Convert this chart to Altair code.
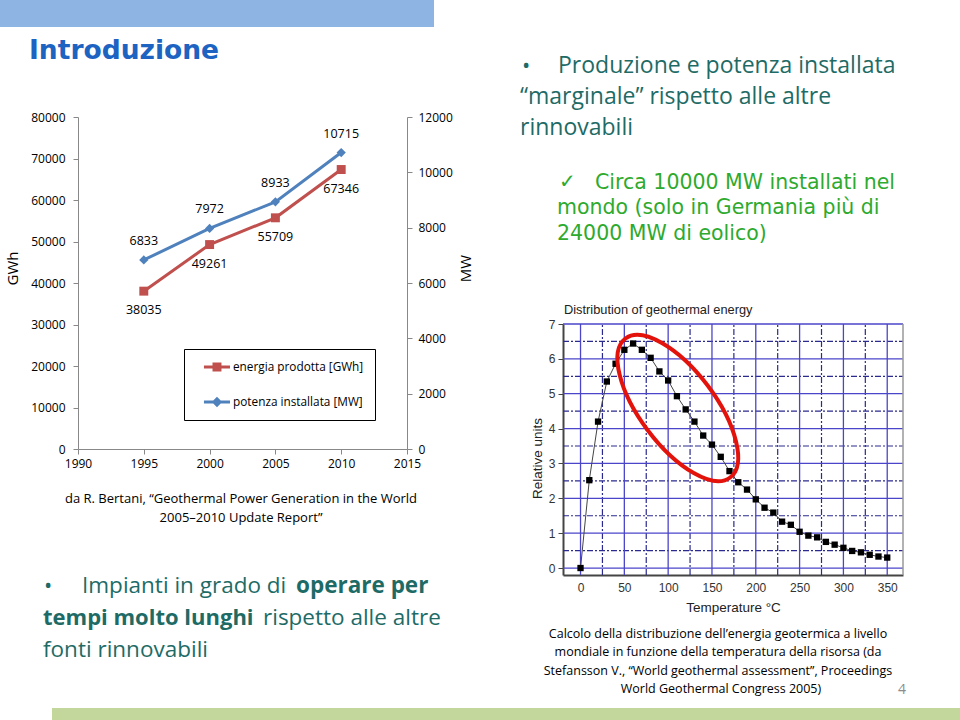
import altair as alt
import pandas as pd

# ---------------- data ----------------
anni = [1995, 2000, 2005, 2010]
energia_gwh = [38035, 49261, 55709, 67346]
potenza_mw = [6833, 7972, 8933, 10715]
serie = ["energia prodotta [GWh]", "potenza installata [MW]"]

anni_tick = [1990, 1995, 2000, 2005, 2010, 2015]
gwh_tick = [0, 10000, 20000, 30000, 40000, 50000, 60000, 70000, 80000]
mw_tick = [0, 2000, 4000, 6000, 8000, 10000, 12000]

temperatura = [0, 10, 20, 30, 40, 50, 60, 70, 80, 90, 100, 110, 120, 130, 140, 150, 160, 170,
               180, 190, 200, 210, 220, 230, 240, 250, 260, 270, 280, 290, 300, 310, 320, 330, 340, 350]
unita_relative = [0.0, 2.52, 4.20, 5.35, 5.86, 6.26, 6.44, 6.26, 6.03, 5.64, 5.38, 4.93, 4.55, 4.20,
                  3.80, 3.54, 3.19, 2.78, 2.46, 2.25, 1.97, 1.73, 1.59, 1.33, 1.24, 1.04, 0.93, 0.88,
                  0.75, 0.67, 0.58, 0.49, 0.45, 0.38, 0.33, 0.30]
temp_tick = [0, 50, 100, 150, 200, 250, 300, 350]
temp_tick_min = [25, 75, 125, 175, 225, 275, 325]
unita_tick = [0, 1, 2, 3, 4, 5, 6, 7]
unita_tick_min = [0.5, 1.5, 2.5, 3.5, 4.5, 5.5, 6.5]
ellisse_centro = [111, 4.59]

# ---------------- layout / style ----------------
W, H = 960, 720
LX0, LX1, LY0, LY1 = 78, 407, 449, 117          # left chart plot area
DX0, DX1, DY0, DY1 = 563, 903, 575, 324         # distribution chart plot area
RED, BLUE = "#C0504D", "#4F81BD"
TEAL, GREEN, TITLEBLUE = "#1E6B66", "#2EAA2E", "#1C63C2"
F_BODY, F_GOTH, F_ARIAL = "Open Sans", "DejaVu Sans", "Liberation Sans"
GRAY = "#888888"

# ---------------- left chart (dual axis) ----------------
df_left = pd.DataFrame({"anno": anni, "gwh": energia_gwh, "mw": potenza_mw})

S_YEAR = alt.Scale(domain=[1990, 2015], range=[LX0, LX1], nice=False, zero=False)
S_GWH = alt.Scale(domain=[0, 80000], range=[LY0, LY1], nice=False)
S_MW = alt.Scale(domain=[0, 12000], range=[LY0, LY1], nice=False)

AX_YEAR = alt.Axis(orient="bottom", offset=LY0 - H, values=anni_tick, format="d", title=None,
                   labelFont=F_BODY, labelFontSize=12, labelColor="black", labelPadding=4,
                   domainColor=GRAY, tickColor=GRAY, tickSize=5, grid=False,
                   labelFlush=False, labelOverlap=False)
AX_GWH = alt.Axis(orient="left", offset=-LX0, values=gwh_tick, format="d", title="GWh",
                  titleAngle=270, titleX=12 - LX0, titleY=268, titleAlign="center",
                  titleBaseline="middle", titleFont=F_BODY, titleFontSize=15,
                  titleFontWeight="normal", titleColor="black",
                  labelFont=F_BODY, labelFontSize=12, labelColor="black", labelPadding=8,
                  domainColor=GRAY, tickColor=GRAY, tickSize=5, grid=False, labelOverlap=False)
AX_MW = alt.Axis(orient="right", offset=LX1 - W, values=mw_tick, format="d", title="MW",
                 titleAngle=270, titleX=465 - LX1, titleY=268, titleAlign="center",
                 titleBaseline="middle", titleFont=F_BODY, titleFontSize=15,
                 titleFontWeight="normal", titleColor="black",
                 labelFont=F_BODY, labelFontSize=12, labelColor="black", labelPadding=6,
                 domainColor=GRAY, tickColor=GRAY, tickSize=5, grid=False, labelOverlap=False)

X_YEAR = alt.X("anno:Q", scale=S_YEAR, axis=AX_YEAR)
Y_GWH = alt.Y("gwh:Q", scale=S_GWH, axis=AX_GWH)
Y_MW = alt.Y("mw:Q", scale=S_MW, axis=AX_MW)

base_l = alt.Chart(df_left)
red_line = base_l.mark_line(color=RED, strokeWidth=3).encode(x=X_YEAR, y=Y_GWH)
red_pts = base_l.mark_point(shape="square", filled=True, size=80, color=RED, opacity=1).encode(x=X_YEAR, y=Y_GWH)
red_lbl = base_l.mark_text(dy=19, font=F_BODY, fontSize=12.5, color="black").encode(
    x=X_YEAR, y=Y_GWH, text=alt.Text("gwh:Q", format="d"))

blue_line = base_l.mark_line(color=BLUE, strokeWidth=3).encode(x=X_YEAR, y=Y_MW)
blue_pts = base_l.mark_point(shape="diamond", filled=True, size=85, color=BLUE, opacity=1).encode(x=X_YEAR, y=Y_MW)
blue_lbl = base_l.mark_text(dy=-19, font=F_BODY, fontSize=12.5, color="black").encode(
    x=X_YEAR, y=Y_MW, text=alt.Text("mw:Q", format="d"))

# legend: line + marker symbols drawn by the legend itself
PATH_SQ = ("M 0.28 -0.21 L 4 -0.21 L 4 0.21 L 0.28 0.21 Z "
           "M 1.5 -0.64 L 2.78 -0.64 L 2.78 0.64 L 1.5 0.64 Z")
PATH_DI = ("M 0.28 -0.21 L 4 -0.21 L 4 0.21 L 0.28 0.21 Z "
           "M 2.14 -0.75 L 2.89 0 L 2.14 0.75 L 1.39 0 Z")
LEG = alt.Legend(title=None, orient="none", legendX=184, legendY=349, direction="vertical",
                 strokeColor="black", fillColor="white", padding=11, rowPadding=21,
                 symbolSize=196, symbolStrokeWidth=0, symbolOpacity=1, labelOffset=24,
                 labelFont=F_BODY, labelFontSize=11.8, labelColor="black", labelLimit=0)
legend_layer = alt.Chart(pd.DataFrame({"serie": serie})).mark_point(filled=True, opacity=0).encode(
    color=alt.Color("serie:N", scale=alt.Scale(domain=serie, range=[RED, BLUE]), legend=LEG),
    shape=alt.Shape("serie:N", scale=alt.Scale(domain=serie, range=[PATH_SQ, PATH_DI]), legend=LEG),
)

left_chart = alt.layer(
    alt.layer(red_line, red_pts, red_lbl, legend_layer),
    alt.layer(blue_line, blue_pts, blue_lbl),
).resolve_scale(y="independent")

# ---------------- distribution chart ----------------
S_T = alt.Scale(domain=[-20, 368], range=[DX0, DX1], nice=False, zero=False)
S_U = alt.Scale(domain=[-0.2, 7.0], range=[DY0, DY1], nice=False, zero=False)
AX_T = alt.Axis(orient="bottom", offset=DY0 - H, values=temp_tick, format="d",
                title="Temperature  \u00b0C", titleX=733, titleY=32, titleAlign="center",
                titleBaseline="middle", titleFont=F_ARIAL, titleFontSize=13.5,
                titleFontWeight="normal", titleColor="#222222",
                labelFont=F_ARIAL, labelFontSize=12, labelColor="#333333", labelPadding=7,
                ticks=False, domainColor="#444444", domainWidth=2, grid=False,
                labelFlush=False, labelOverlap=False)
AX_U = alt.Axis(orient="left", offset=-DX0, values=unita_tick, format="d",
                title="Relative units", titleAngle=270, titleX=537 - DX0, titleY=458,
                titleAlign="center", titleBaseline="middle", titleFont=F_ARIAL,
                titleFontSize=13.5, titleFontWeight="normal", titleColor="#222222",
                labelFont=F_ARIAL, labelFontSize=12, labelColor="#333333", labelPadding=3,
                tickSize=5, tickColor="#444444", domainColor="#444444", domainWidth=2,
                grid=False, labelOverlap=False)


def xt(field):
    return alt.X(field, type="quantitative", scale=S_T, axis=AX_T)


def yu(field):
    return alt.Y(field, type="quantitative", scale=S_U, axis=AX_U)


t_lo, t_hi = S_T.domain
u_lo, u_hi = -0.2, 7.0
df_vmaj = pd.DataFrame({"t": temp_tick, "u0": u_lo, "u1": u_hi})
df_vmin = pd.DataFrame({"t": temp_tick_min, "u0": u_lo, "u1": u_hi})
df_hmaj = pd.DataFrame({"u": unita_tick, "t0": t_lo, "t1": t_hi})
df_hmin = pd.DataFrame({"u": unita_tick_min, "t0": t_lo, "t1": t_hi})

GRID_MAJ = dict(color="#4B45C9", strokeWidth=1.3)
GRID_MIN = dict(color="#2A2A8F", strokeWidth=1.2, strokeDash=[6, 2, 2, 2])

g_vmaj = alt.Chart(df_vmaj).mark_rule(**GRID_MAJ).encode(x=xt("t"), y=yu("u0"), y2="u1")
g_vmin = alt.Chart(df_vmin).mark_rule(**GRID_MIN).encode(x=xt("t"), y=yu("u0"), y2="u1")
g_hmaj = alt.Chart(df_hmaj).mark_rule(**GRID_MAJ).encode(y=yu("u"), x=xt("t0"), x2="t1")
g_hmin = alt.Chart(df_hmin).mark_rule(**GRID_MIN).encode(y=yu("u"), x=xt("t0"), x2="t1")
frame_r = alt.Chart(pd.DataFrame({"t": [t_hi], "u0": [u_lo], "u1": [u_hi]})).mark_rule(
    color="#999999", strokeWidth=1.5).encode(x=xt("t"), y=yu("u0"), y2="u1")

df_dist = pd.DataFrame({"temp": temperatura, "rel": unita_relative})
d_line = alt.Chart(df_dist).mark_line(color="#444444", strokeWidth=1).encode(x=xt("temp"), y=yu("rel"))
d_pts = alt.Chart(df_dist).mark_point(shape="square", filled=True, size=40, color="black",
                                      opacity=1).encode(x=xt("temp"), y=yu("rel"))

# red ellipse (rotated) highlighting 50-170 °C
r, k = 0.43, 0.5523
ELLIPSE = (f"M 1 0 C 1 {k*r:.4f} {k:.4f} {r} 0 {r} "
           f"C {-k:.4f} {r} -1 {k*r:.4f} -1 0 "
           f"C -1 {-k*r:.4f} {-k:.4f} {-r} 0 {-r} "
           f"C {k:.4f} {-r} 1 {-k*r:.4f} 1 0 Z")
ell = alt.Chart(pd.DataFrame({"t": [ellisse_centro[0]], "u": [ellisse_centro[1]]})).mark_point(
    shape=ELLIPSE, size=30300, angle=53, filled=False, stroke="#E3120B", strokeWidth=4,
    opacity=1).encode(x=xt("t"), y=yu("u"))

dist_chart = alt.layer(g_vmin, g_hmin, g_vmaj, g_hmaj, frame_r, d_line, d_pts, ell)


# ---------------- slide texts and bands ----------------
def txt(s, x, y, size, color="black", font=F_BODY, weight="normal", align="left"):
    return alt.Chart(pd.DataFrame({"t": [s]})).mark_text(
        align=align, baseline="middle", font=font, fontSize=size, fontWeight=weight,
        color=color).encode(x=alt.value(x), y=alt.value(y), text="t:N")


def band(x, x2, y, y2, color):
    return alt.Chart(pd.DataFrame({"a": [0]})).mark_rect(color=color).encode(
        x=alt.value(x), x2=alt.value(x2), y=alt.value(y), y2=alt.value(y2))


texts = [
    band(0, 434, 0, 27, "#8EB4E3"),
    band(52, 960, 708, 720, "#C3D69B"),
    txt("Introduzione", 29, 51, 26.5, TITLEBLUE, F_GOTH, "bold"),
    txt("\u2022", 522, 66, 22, TEAL),
    txt("Produzione e potenza installata", 558, 66, 23, TEAL),
    txt("\u201cmarginale\u201d rispetto alle altre", 520, 97, 23, TEAL),
    txt("rinnovabili", 520, 128, 23, TEAL),
    txt("\u2713", 559, 182, 20, GREEN, F_GOTH),
    txt("Circa 10000 MW installati nel", 595, 183, 20.5, GREEN, F_GOTH),
    txt("mondo (solo in Germania pi\u00f9 di", 557, 208, 20.5, GREEN, F_GOTH),
    txt("24000 MW di eolico)", 557, 234, 20.5, GREEN, F_GOTH),
    txt("da R. Bertani, \u201cGeothermal Power Generation in the World", 241, 499, 13, align="center"),
    txt("2005\u20132010 Update Report\u201d", 241, 518, 13, align="center"),
    txt("\u2022", 44, 586, 22, TEAL),
    txt("Impianti in grado di", 82, 586, 22.5, TEAL),
    txt("operare per", 296, 586, 22.5, TEAL, weight="bold"),
    txt("tempi molto lunghi", 43, 618, 22, TEAL, weight="bold"),
    txt("rispetto alle altre", 263, 618, 22.5, TEAL),
    txt("fonti rinnovabili", 43, 650, 22.5, TEAL),
    txt("Distribution of geothermal energy", 564, 310, 12.8, "#222222", F_ARIAL),
    txt("Calcolo della distribuzione dell\u2019energia geotermica a livello", 718, 634, 12.5, align="center"),
    txt("mondiale in funzione della temperatura della risorsa (da", 718, 652, 12.5, align="center"),
    txt("Stefansson V., \u201cWorld geothermal assessment\u201d, Proceedings", 718, 671, 12.5, align="center"),
    txt("World Geothermal Congress 2005)", 721, 689, 12.5, align="center"),
    txt("4", 898, 690, 14, "#8C8C8C"),
]

chart = alt.layer(*texts, left_chart, dist_chart).resolve_scale(
    x="independent", y="independent", color="independent", shape="independent"
).properties(
    width=W, height=H, autosize=alt.AutoSizeParams(type="none"), padding=0, background="white"
).configure_view(strokeWidth=0)

chart.save("out.html", embed_options={"renderer": "svg", "actions": False})
